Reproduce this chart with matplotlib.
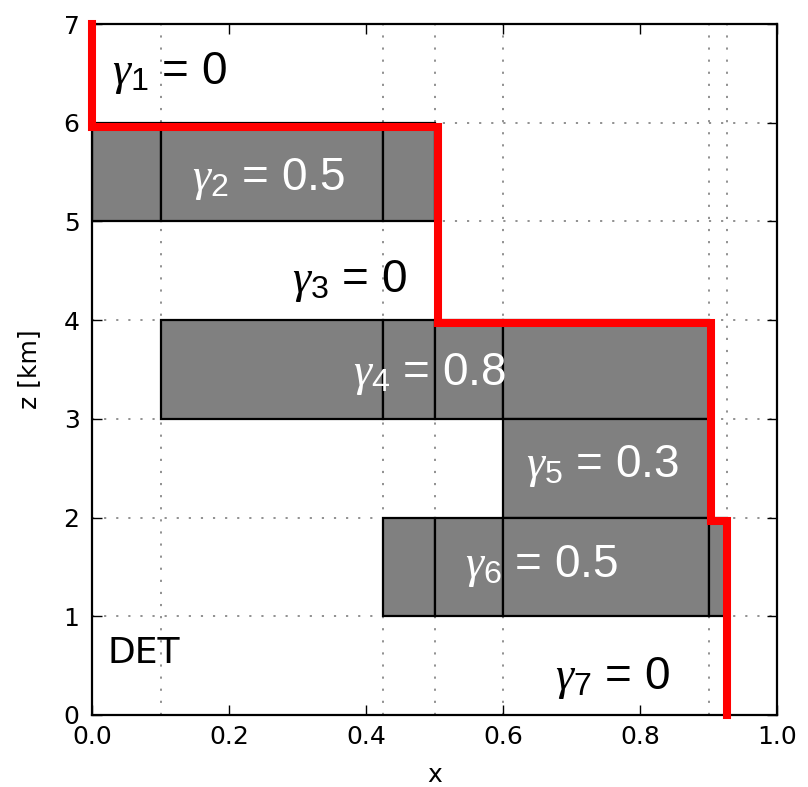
import matplotlib
matplotlib.use("Agg")
import matplotlib.pyplot as plt
import numpy as np

# ---- data ----
layer_bottoms = [5, 3, 2, 1]
layer_tops = [6, 4, 3, 2]
layer_edges = [
    [0.0, 0.1, 0.425, 0.5],
    [0.1, 0.425, 0.5, 0.6, 0.9],
    [0.6, 0.9],
    [0.425, 0.5, 0.6, 0.9, 0.927],
]
grid_x = [0.1, 0.425, 0.5, 0.6, 0.9, 0.927]
grid_z = [1, 2, 3, 4, 5, 6]

red_x = [0.0, 0.0, 0.505, 0.505, 0.904, 0.904, 0.927, 0.927]
red_z = [7.0, 5.96, 5.96, 3.97, 3.97, 1.97, 1.97, 0.0]

gamma_idx = ["1", "2", "3", "4", "5", "6", "7"]
gamma_val = ["0", "0.5", "0", "0.8", "0.3", "0.5", "0"]
gamma_x = [0.029, 0.146, 0.292, 0.381, 0.634, 0.545, 0.676]
gamma_z = [6.39, 5.32, 4.29, 3.34, 2.41, 1.40, 0.26]
gamma_color = ["black", "white", "black", "white", "white", "white", "black"]

x_ticks = [0.0, 0.2, 0.4, 0.6, 0.8, 1.0]
x_ticklabels = ["0.0", "0.2", "0.4", "0.6", "0.8", "1.0"]
z_ticks = [0, 1, 2, 3, 4, 5, 6, 7]

plt.rcParams['mathtext.fontset'] = 'custom'
plt.rcParams['mathtext.it'] = 'Liberation Serif:italic'
plt.rcParams['mathtext.rm'] = 'Liberation Sans'
plt.rcParams['font.family'] = ['DejaVu Sans']

fig = plt.figure(figsize=(8.08, 7.87), dpi=100)
ax = fig.add_axes([92/808, 72/787, 685/808, 691/787])

# grid lines
for gx in grid_x:
    ax.axvline(gx, color='#888888', lw=1.3, ls=(0, (1.2, 5.5)), zorder=0.5)
for gz in grid_z:
    ax.axhline(gz, color='#888888', lw=1.3, ls=(0, (1.2, 5.5)), zorder=0.5)

# layers
for zb, zt, edges in zip(layer_bottoms, layer_tops, layer_edges):
    e = np.array(edges)
    ax.bar(e[:-1], zt - zb, width=np.diff(e), bottom=zb, align='edge',
           color='#808080', edgecolor='black', linewidth=1.6, zorder=2)

# red profile
ax.plot(red_x, red_z, color='#ff0000', lw=5.8, zorder=4, clip_on=False,
        solid_joinstyle='miter')

# gamma labels
for i, v, gx, gz, c in zip(gamma_idx, gamma_val, gamma_x, gamma_z, gamma_color):
    ax.text(gx, gz, r"$\gamma_{%s}$ = %s" % (i, v), color=c, fontsize=33,
            family='Liberation Sans', ha='left', va='baseline', zorder=5)

ax.text(0.022, 0.53, "DET", fontsize=26, ha='left', va='baseline', zorder=5)

ax.set_xlim(0, 1)
ax.set_ylim(0, 7)
ax.set_xticks(x_ticks)
ax.set_xticklabels(x_ticklabels)
ax.set_yticks(z_ticks)
ax.tick_params(direction='in', top=True, right=True, length=7, width=1,
               labelsize=18, pad=7)
ax.tick_params(axis='y', pad=9)
for s in ax.spines.values():
    s.set_linewidth(1.6)
ax.set_xlabel("x", fontsize=18, labelpad=10)
ax.set_ylabel("z [km]", fontsize=18, labelpad=16)

fig.savefig("out.png", dpi=100)
